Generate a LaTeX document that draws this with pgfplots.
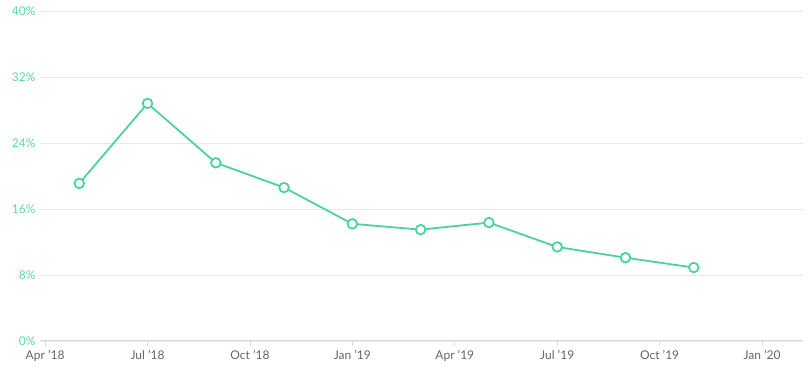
\documentclass[border=0pt]{standalone}
\usepackage{pgfplots}
\pgfplotsset{compat=1.18}
\usepackage{fontspec}
\setmainfont{Lato}
\usetikzlibrary{calc}
\definecolor{linegreen}{HTML}{4CD39A}
\definecolor{labgreen}{HTML}{5FD8A2}
\definecolor{labgray}{HTML}{666666}
\definecolor{gridc}{HTML}{E8E8E8}
\definecolor{axisc}{HTML}{D3DAEA}
\begin{document}
\begin{tikzpicture}
\begin{axis}[
  name=ax,
  scale only axis,
  width=763pt, height=330pt,
  xmin=-0.15, xmax=22.2,
  ymin=0, ymax=40,
  xtick={0,3,6,9,12,15,18,21},
  xticklabels={Apr '18,Jul '18,Oct '18,Jan '19,Apr '19,Jul '19,Oct '19,Jan '20},
  ytick={0,8,16,24,32,40},
  yticklabels={0\%,8\%,16\%,24\%,32\%,40\%},
  /pgf/number format/assume math mode=true,
  axis line style={draw=none},
  axis x line*=bottom,
  axis y line*=left,
  ymajorgrids,
  grid style={gridc, line width=0.8pt},
  major x tick style={axisc, line width=0.8pt},
  xtick align=outside,
  major tick length=5pt,
  y tick style={draw=none},
  x tick label style={font=\fontsize{12}{14}\selectfont, text=labgray, yshift=-0.5pt},
  y tick label style={font=\fontsize{12}{14}\selectfont, text=labgreen, xshift=-1pt},
  clip=false,
]
\draw[axisc, line width=1pt] (axis cs:-0.15,0) -- (axis cs:22.2,0);
\addplot[linegreen, line width=1.8pt, mark=*, mark size=4.8pt,
  mark options={fill=white, draw=linegreen, line width=1.8pt}]
  coordinates {
  (1,19.1) (3,28.8) (5,21.6) (7,18.6) (9,14.2) (11,13.5) (13,14.35) (15,11.4) (17,10.1) (19,8.9)
  };
\end{axis}
\pgfresetboundingbox
\path[use as bounding box] ($(ax.south west)+(-40pt,-31pt)$) rectangle ($(ax.north east)+(9pt,11pt)$);
\end{tikzpicture}
\end{document}
